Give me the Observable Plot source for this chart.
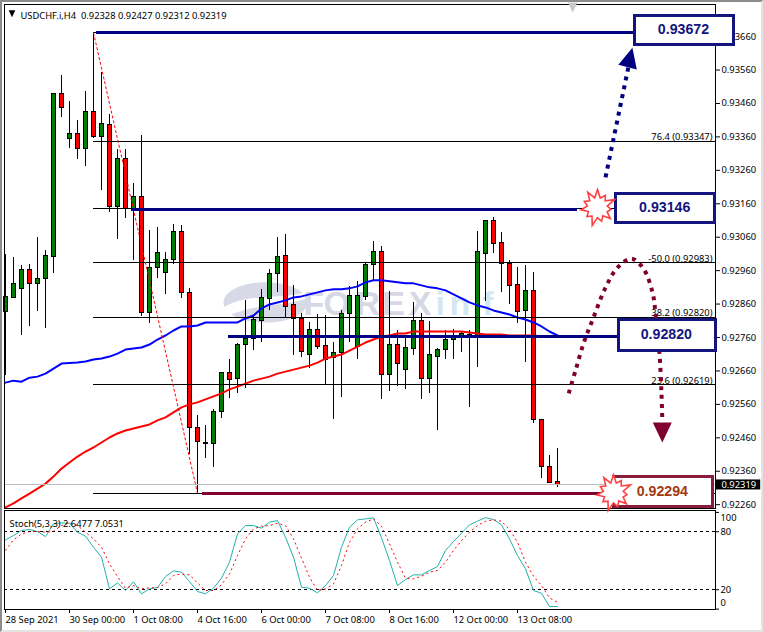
<!DOCTYPE html>
<html>
<head>
<meta charset="utf-8">
<script src="https://cdn.jsdelivr.net/npm/d3@7"></script>
<script src="https://cdn.jsdelivr.net/npm/@observablehq/plot@0.6"></script>
<style>
html,body{margin:0;padding:0;background:#fff;width:763px;height:632px;overflow:hidden}
#edge{position:absolute;left:0;top:0;width:763px;height:632px;box-sizing:border-box;border-left:2px solid #8c8c8c;border-top:2px solid #8c8c8c;border-right:2px solid #e4e4e4;border-bottom:2px solid #e4e4e4;pointer-events:none;z-index:5}
#main{position:absolute;left:0;top:0;z-index:2}
#sub{position:absolute;left:0;top:509px;z-index:1}
svg{display:block}
</style>
</head>
<body>
<div id="edge"></div>
<div id="main"></div>
<div id="sub"></div>
<script>
const symbolName = "USDCHF.i,H4\u00a0\u00a00.92328 0.92427 0.92312 0.92319";
const stochName = "Stoch(5,3,3) 2.6477 7.0531";
const dateTicks = [0,8,16,24,32,40,48,56,64];
const dateLabels = ["28 Sep 2021","30 Sep 00:00","1 Oct 08:00","4 Oct 16:00","6 Oct 00:00","7 Oct 08:00","8 Oct 16:00","12 Oct 00:00","13 Oct 08:00"];
const priceTicks = [0.9366,0.9356,0.9346,0.9336,0.9326,0.9316,0.9306,0.9296,0.9286,0.9276,0.9266,0.9256,0.9246,0.9236,0.9226];

const opens = [0.92835,0.92877,0.92904,0.92963,0.92919,0.92934,0.93002,0.93487,0.93355,0.93370,
0.93325,0.93433,0.93361,0.93397,0.93149,0.93295,0.93143,0.93179,0.92832,0.92969,
0.92954,0.92993,0.93077,0.92892,0.92488,0.92444,0.92443,0.92536,0.92655,0.92637,
0.92739,0.92757,0.92808,0.92874,0.92951,0.93005,0.92856,0.92814,0.92709,0.92781,
0.92736,0.92700,0.92715,0.92829,0.92733,0.92880,0.92978,0.93017,0.92649,0.92739,
0.92664,0.92727,0.92808,0.92637,0.92703,0.92724,0.92754,0.92760,0.92769,0.92766,
0.93011,0.93107,0.93044,0.92981,0.92916,0.92838,0.92898,0.92512,0.92374,0.92328];
const closes = [0.92880,0.92919,0.92963,0.92919,0.92934,0.93005,0.93487,0.93445,0.93370,0.93325,
0.93433,0.93361,0.93400,0.93149,0.93295,0.93143,0.93179,0.92832,0.92969,0.93014,
0.92993,0.93077,0.92892,0.92488,0.92446,0.92441,0.92536,0.92655,0.92634,0.92739,
0.92757,0.92811,0.92877,0.92951,0.93002,0.92850,0.92814,0.92718,0.92781,0.92733,
0.92694,0.92715,0.92829,0.92883,0.92883,0.92978,0.93017,0.92649,0.92739,0.92682,
0.92730,0.92808,0.92637,0.92709,0.92724,0.92754,0.92760,0.92772,0.92763,0.93017,
0.93107,0.93041,0.92981,0.92913,0.92835,0.92898,0.92512,0.92374,0.92326,0.92319];
const highs = [0.93008,0.92999,0.92975,0.92978,0.93059,0.93020,0.93490,0.93544,0.93466,0.93409,
0.93496,0.93672,0.93553,0.93427,0.93322,0.93322,0.93221,0.93364,0.93080,0.93089,
0.93014,0.93098,0.93095,0.92907,0.92527,0.92497,0.92545,0.92655,0.92694,0.92742,
0.92871,0.92826,0.92904,0.92963,0.93059,0.93068,0.92916,0.92832,0.92805,0.92829,
0.92826,0.92745,0.92841,0.92913,0.92928,0.92984,0.93047,0.93032,0.92898,0.92781,
0.92757,0.92865,0.92832,0.92808,0.92727,0.92781,0.92784,0.92775,0.92781,0.93077,
0.93110,0.93119,0.93074,0.92990,0.92969,0.92975,0.92954,0.92512,0.92407,0.92427];
const lows = [0.92646,0.92877,0.92766,0.92793,0.92838,0.92787,0.92951,0.93418,0.93325,0.93292,
0.93271,0.93355,0.93200,0.93134,0.93053,0.93116,0.92990,0.92823,0.92802,0.92937,
0.92889,0.92978,0.92877,0.92410,0.92293,0.92398,0.92371,0.92518,0.92578,0.92593,
0.92607,0.92721,0.92745,0.92841,0.92895,0.92820,0.92706,0.92700,0.92667,0.92724,
0.92619,0.92515,0.92581,0.92745,0.92694,0.92871,0.92931,0.92575,0.92598,0.92613,
0.92604,0.92706,0.92575,0.92593,0.92482,0.92694,0.92694,0.92715,0.92551,0.92670,
0.92868,0.93011,0.92895,0.92859,0.92802,0.92685,0.92503,0.92338,0.92323,0.92312];

const maBlue = [0.92625,0.92631,0.92628,0.92640,0.92643,0.92652,0.92667,0.92682,0.92684,0.92685,
0.92688,0.92694,0.92697,0.92703,0.92712,0.92724,0.92727,0.92730,0.92739,0.92754,
0.92766,0.92781,0.92793,0.92793,0.92796,0.92805,0.92805,0.92805,0.92805,0.92805,
0.92817,0.92826,0.92847,0.92859,0.92865,0.92871,0.92880,0.92883,0.92889,0.92895,
0.92901,0.92904,0.92904,0.92907,0.92913,0.92925,0.92931,0.92931,0.92928,0.92925,
0.92922,0.92922,0.92916,0.92910,0.92907,0.92901,0.92889,0.92877,0.92865,0.92856,
0.92850,0.92841,0.92835,0.92829,0.92820,0.92814,0.92805,0.92793,0.92778,0.92766];
const maRed = [0.92252,0.92264,0.92279,0.92293,0.92308,0.92323,0.92344,0.92368,0.92386,0.92404,
0.92419,0.92431,0.92446,0.92461,0.92473,0.92482,0.92488,0.92494,0.92500,0.92512,
0.92521,0.92536,0.92551,0.92560,0.92566,0.92575,0.92584,0.92593,0.92605,0.92613,
0.92622,0.92631,0.92637,0.92643,0.92652,0.92658,0.92664,0.92670,0.92676,0.92685,
0.92697,0.92703,0.92709,0.92721,0.92733,0.92745,0.92754,0.92763,0.92766,0.92772,
0.92772,0.92778,0.92778,0.92778,0.92778,0.92778,0.92778,0.92778,0.92775,0.92772,
0.92769,0.92769,0.92769,0.92766,0.92766,0.92766,0.92766,0.92763,0.92763,0.92763];

const stochMain = [71.6,76.1,81.3,82.3,80.2,75.0,88.1,89.2,88.8,79.5,
75.4,64.0,53.7,20.9,27.1,19.2,28.2,15.8,20.9,22.3,
33.7,39.5,38.2,28.5,18.2,15.8,21.6,32.0,48.5,77.8,
86.4,86.4,83.7,89.9,91.6,74.3,53.7,22.6,21.6,16.8,
24.4,34.7,64.0,84.7,92.3,93.3,94.3,73.7,50.2,24.4,
30.6,35.4,35.4,39.9,44.0,60.6,69.9,78.5,87.1,90.9,
94.7,92.6,87.1,72.6,55.4,41.6,19.2,16.4,2.65,2.65];
const stochSignal = [60.6,71.6,77.8,80.2,80.2,79.5,80.6,86.4,89.2,86.4,
79.5,72.6,64.0,46.8,33.7,21.6,24.4,20.9,22.0,22.3,
26.1,34.7,36.4,35.4,27.1,19.2,19.2,25.1,36.4,55.4,
72.6,83.0,85.7,86.4,88.8,86.4,72.6,52.6,33.0,19.2,
20.9,26.1,45.0,69.2,83.0,89.9,93.3,85.7,67.5,48.5,
31.9,31.3,34.0,38.2,39.9,48.5,60.6,70.9,79.5,86.4,
90.9,92.3,90.9,82.3,69.2,48.5,34.0,24.4,11.6,7.05];

const fibPrices = [0.93672,0.93347,0.93146,0.92983,0.92820,0.92619,0.92294];
const fibNames = ["","76.4 (0.93347)","","-50.0 (0.92983)","38.2 (0.92820)","23.6 (0.92619)",""];
const lastPrice = 0.92319;

const calloutText = ["0.93672","0.93146","0.92820","0.92294"];
const calloutPrice = [0.93681,0.93149,0.92769,0.92299];
const calloutBar = [84.75,82.4,82.6,82.1];
const calloutX1 = [78.7,76.3,76.7,76.05];
const calloutX2 = [91.05,88.7,88.8,88.45];
const calloutTop = [0.93722,0.93189,0.92812,0.92343];
const calloutBottom = [0.93635,0.93102,0.92720,0.92253];
const calloutColor = ["#14147e","#14147e","#14147e","#8a1c3c"];
const calloutInk = ["#14147e","#14147e","#14147e","#a33a12"];

const levelPrice = [0.93672,0.93143,0.92763,0.92293];
const levelX1 = [11.4,15.75,27.9,24.6];
const levelX2 = [78.5,71.5,76.5,74.4];
const levelColor = ["#000080","#000080","#000080","#800030"];

const upArrowBar = [75,77.9];
const upArrowPrice = [0.93239,0.93573];
const arcBar = [70.4,71.25,72.25,73.5,75,76.5,78.25,79.75,80.9,81.25,81.75,82,82.1];
const arcPrice = [0.92593,0.92661,0.92742,0.92820,0.92909,0.92969,0.92996,0.92966,0.92892,0.92832,0.92712,0.92593,0.92512];

const markLetters = ["F","O","R","E","X","i","n","f"];
const markBars = [37.25,39.75,43.75,47.1,50.4,53.75,55.5,59.6];
const markColors = ["#d6d8e5","#d6d8e5","#d6d8e5","#d6d8e5","#d6d8e5","#d6e7f4","#d6e7f4","#d6e7f4"];

const bars = opens.map((o,i)=>({i,o,c:closes[i],h:highs[i],l:lows[i],blue:maBlue[i],red:maRed[i],k:stochMain[i],d:stochSignal[i]}));
const up = bars.filter(d=>d.c>=d.o), down = bars.filter(d=>d.c<d.o);
const fib = fibPrices.map((p,i)=>({p,name:fibNames[i]}));
const levels = levelPrice.map((p,i)=>({p,x1:levelX1[i],x2:levelX2[i],color:levelColor[i]}));
const callouts = calloutText.map((t,i)=>({t,p:calloutPrice[i],b:calloutBar[i],x1:calloutX1[i],x2:calloutX2[i],top:calloutTop[i],bot:calloutBottom[i],color:calloutColor[i],ink:calloutInk[i]}));
const upPath = upArrowBar.map((b,i)=>({b,p:upArrowPrice[i]}));
const arcPath = arcBar.map((b,i)=>({b,p:arcPrice[i]}));
const mark = markLetters.map((t,i)=>({t,b:markBars[i],color:markColors[i]}));

const triangle = {draw(c,size){const r=Math.sqrt(size/Math.PI);c.moveTo(0,-r*1.2);c.lineTo(r*.95,r*.8);c.lineTo(-r*.95,r*.8);c.closePath();}};
const starR = [1.05,.58,.85,.6,1.1,.58,.8,.62,1.0,.58,.85,.6,1.1,.6,.82,.58,.98,.6,.85,.6,1.05,.58];
const star = {draw(c,size){const r=Math.sqrt(size/Math.PI);starR.forEach((k,j)=>{const a=j/starR.length*2*Math.PI;const x=r*k*Math.sin(a),y=-r*k*Math.cos(a);j?c.lineTo(x,y):c.moveTo(x,y);});c.closePath();}};
const ellipse = {draw(c,size){const r=Math.sqrt(size/Math.PI),h=r*.48,k=.5523;c.moveTo(-r,0);c.bezierCurveTo(-r,-h*k,-r*k,-h,0,-h);c.bezierCurveTo(r*k,-h,r,-h*k,r,0);c.bezierCurveTo(r,h*k,r*k,h,0,h);c.bezierCurveTo(-r*k,h,-r,h*k,-r,0);c.closePath();}};
const swoosh = {draw(c,size){const r=Math.sqrt(size/Math.PI);c.moveTo(-r,r*.12);c.bezierCurveTo(-r*.4,-r*.25,r*.4,-r*.05,r*.95,-r*.25);c.lineTo(r*.95,-r*.08);c.bezierCurveTo(r*.3,r*.12,-r*.2,r*.02,-r*.85,r*.3);c.closePath();}};

const uiFont = "Noto Sans, sans-serif";
const xDomain = [-0.125,88.75];

const main = Plot.plot({
  width:763, height:514, marginLeft:4, marginRight:48, marginTop:4, marginBottom:6,
  style:{background:"transparent",fontFamily:uiFont,fontSize:"9.35px",color:"#000"},
  x:{domain:xDomain,axis:null},
  y:{domain:[0.922486,0.93756],axis:null},
  marks:[
    Plot.dot([{b:32.5,p:0.92865}],{x:"b",y:"p",r:42,symbol:ellipse,fill:"#d8d9e6"}),
    Plot.dot([{b:32.5,p:0.92865}],{x:"b",y:"p",r:42,symbol:swoosh,fill:"#ffffff"}),
    Plot.text(mark,{x:"b",y:()=>0.92859,text:"t",fill:"color",fontSize:34,fontWeight:"bold",fontFamily:"Liberation Sans",textAnchor:"start"}),
    Plot.ruleX(bars,{x:"i",y1:"l",y2:"h",stroke:"#000",strokeWidth:1,shapeRendering:"crispEdges"}),
    Plot.rect(up,{x1:d=>d.i-.25,x2:d=>d.i+.25,y1:"o",y2:"c",fill:"#008000",stroke:"#000",strokeWidth:1,shapeRendering:"crispEdges"}),
    Plot.rect(down,{x1:d=>d.i-.25,x2:d=>d.i+.25,y1:"o",y2:"c",fill:"#ff0000",stroke:"#000",strokeWidth:1,shapeRendering:"crispEdges"}),
    Plot.line(bars,{x:"i",y:"blue",stroke:"#0000ff",strokeWidth:2,curve:"linear"}),
    Plot.line(bars,{x:"i",y:"red",stroke:"#ff0000",strokeWidth:2,curve:"linear"}),
    Plot.ruleY([lastPrice],{stroke:"#c0c0c0",strokeWidth:1,shapeRendering:"crispEdges"}),
    Plot.ruleY(fib,{x1:11,x2:xDomain[1],y:"p",stroke:"#000",strokeWidth:1,shapeRendering:"crispEdges"}),
    Plot.line([{b:11,p:0.93672},{b:24,p:0.92294}],{x:"b",y:"p",stroke:"#ff0000",strokeWidth:1,strokeDasharray:"3,2",strokeLinecap:"butt"}),
    Plot.axisY(priceTicks,{anchor:"right",tickSize:4,tickPadding:2,label:null,tickFormat:d3.format(".5f"),fill:"#000"}),
    Plot.frame({stroke:"#000",shapeRendering:"crispEdges"}),
    Plot.text(fib.filter(d=>d.name),{y:"p",text:"name",frameAnchor:"right",dx:-3,dy:-1,textAnchor:"end",lineAnchor:"bottom",fill:"#000"}),
    Plot.ruleY(levels,{x1:"x1",x2:"x2",y:"p",stroke:"color",strokeWidth:3,shapeRendering:"crispEdges"}),
    Plot.line(upPath,{x:"b",y:"p",stroke:"#000080",strokeWidth:4,strokeDasharray:"4,5",strokeLinecap:"butt"}),
    Plot.line(arcPath,{x:"b",y:"p",stroke:"#800030",strokeWidth:4,strokeDasharray:"4,5",strokeLinecap:"butt",curve:"catmull-rom"}),
    Plot.dot([{b:78.0,p:0.93592}],{x:"b",y:"p",r:10,symbol:triangle,fill:"#000080",stroke:"none",rotate:14}),
    Plot.dot([{b:82.1,p:0.92482}],{x:"b",y:"p",r:10,symbol:triangle,fill:"#800030",stroke:"none",rotate:180}),
    Plot.rect(callouts,{x1:"x1",x2:"x2",y1:"bot",y2:"top",fill:"#ffffff",stroke:"color",strokeWidth:3,shapeRendering:"crispEdges"}),
    Plot.text(callouts,{x:"b",y:"p",text:"t",fill:"ink",fontSize:14.2,fontWeight:"bold",fontFamily:"Liberation Sans"}),
    Plot.dot([{b:74,p:0.93149},{b:76,p:0.92296}],{x:"b",y:"p",r:17,symbol:star,fill:"#ffffff",stroke:"#ff4040",strokeWidth:1.6}),
    Plot.dot([{b:70.9,p:0.93750}],{x:"b",y:"p",r:5,symbol:triangle,fill:"#c8c8c8",stroke:"none",rotate:180}),
    Plot.dot([1],{frameAnchor:"top-left",dx:7.5,dy:8.5,r:3.5,symbol:triangle,fill:"#000",stroke:"none",rotate:180}),
    Plot.text([symbolName],{frameAnchor:"top-left",dx:16,dy:8,text:d=>d,textAnchor:"start",fill:"#000"}),
    Plot.rect([1],{x1:[88.875],x2:[94.4],y1:[lastPrice-0.00015],y2:[lastPrice+0.00015],fill:"#000"}),
    Plot.text([lastPrice],{y:d=>d,frameAnchor:"right",dx:6,text:d=>d.toFixed(5),textAnchor:"start",fill:"#fff"})
  ]
});
document.getElementById("main").append(main);

const sub = Plot.plot({
  width:763, height:123, marginLeft:4, marginRight:48, marginTop:1, marginBottom:23,
  style:{background:"transparent",fontFamily:uiFont,fontSize:"9.35px",color:"#000"},
  x:{domain:xDomain,axis:null},
  y:{domain:[-0.41,101.96],axis:null},
  marks:[
    Plot.ruleY([80,20],{stroke:"#000",strokeDasharray:"3,3",shapeRendering:"crispEdges"}),
    Plot.line(bars,{x:"i",y:"k",stroke:"#20b2aa",strokeWidth:1}),
    Plot.line(bars,{x:"i",y:"d",stroke:"#ff0000",strokeWidth:1,strokeDasharray:"2,3",strokeLinecap:"butt"}),
    Plot.frame({stroke:"#000",shapeRendering:"crispEdges"}),
    Plot.axisY([100,80,20,0],{anchor:"right",tickSize:3,tickFormat:()=>"",label:null}),
    Plot.text(["100","80","20","0"],{y:[94.6,80,20,5.8],frameAnchor:"right",dx:5,text:d=>d,textAnchor:"start",fill:"#000"}),
    Plot.axisX(dateTicks,{anchor:"bottom",tickSize:4,tickPadding:3,label:null,tickFormat:i=>dateLabels[dateTicks.indexOf(i)],textAnchor:"start",fill:"#000"}),
    Plot.text([stochName],{frameAnchor:"top-left",dx:5,dy:10,text:d=>d,textAnchor:"start",fill:"#000"})
  ]
});
document.getElementById("sub").append(sub);
</script>
</body>
</html>
